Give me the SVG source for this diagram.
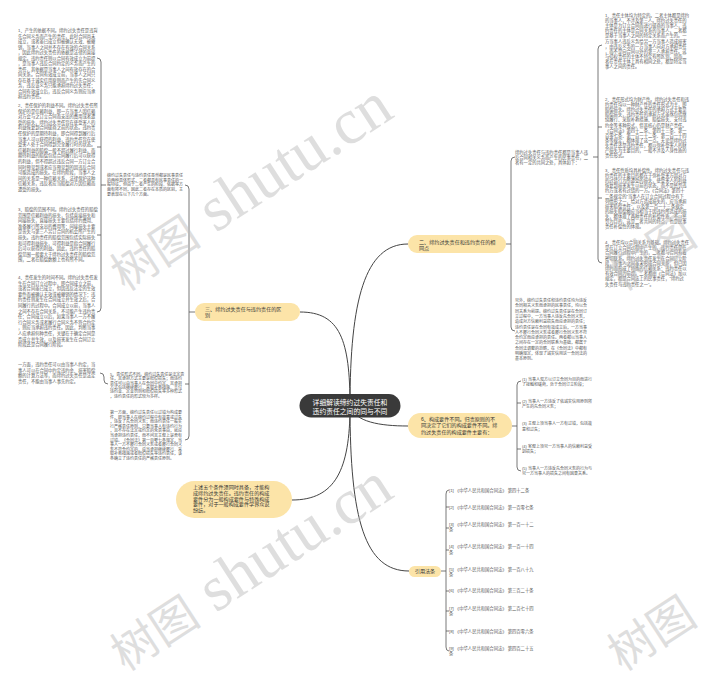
<svg xmlns="http://www.w3.org/2000/svg" width="701" height="675" viewBox="0 0 701 675">
<style>
.bg{fill:#fff}
.n{fill:#fce4a8}
.root{fill:#3a3a3a}
.t{font-family:"Liberation Sans","Noto Sans CJK SC",sans-serif;font-size:4.3px;fill:#585858}
.tm{font-family:"Liberation Sans","Noto Sans CJK SC",sans-serif;font-size:4px;fill:#585858}
.tr{font-family:"Liberation Sans","Noto Sans CJK SC",sans-serif;font-size:4.3px;fill:#585858}
.nt{font-family:"Liberation Sans","Noto Sans CJK SC",sans-serif;font-size:5.1px;fill:#333}
.rt{font-family:"Liberation Sans","Noto Sans CJK SC",sans-serif;font-size:6.8px;fill:#fff}
.ln{fill:none;stroke:#444;stroke-width:1}
.br{fill:none;stroke:#555;stroke-width:0.8}
.wm{font-family:"Liberation Serif","Noto Sans CJK SC",serif;fill:#bdbdbd;fill-opacity:0.5}
</style>
<rect class="bg" x="0" y="0" width="701" height="675"/>

<g id="connectors">
<path class="ln" d="M350,406 C350,300 365,244 408,244"/>
<path class="ln" d="M350,406 C350,340 340,312 300,312"/>
<path class="ln" d="M350,406 C355,422 380,426 408,426"/>
<path class="ln" d="M350,406 C350,470 335,500 292,500"/>
<path class="ln" d="M350,406 C350,520 365,571 409,571"/>
<path class="br" d="M506,244 L511,244"/>
<path class="br" d="M515,157 Q511,157 511,161 L511,327 Q511,331 515,331"/>
<path class="br" d="M593,157 L598,157"/>
<path class="br" d="M602,45 Q598,45 598,49 L598,259 Q598,263 602,263"/>
<path class="br" d="M598,127 L602,127"/>
<path class="br" d="M598,198 L602,198"/>
<path class="br" d="M512,426 L517,426"/>
<path class="br" d="M521,381 Q517,381 517,385 L517,467 Q517,471 521,471"/>
<path class="br" d="M517,403 L521,403"/>
<path class="br" d="M517,449 L521,449"/>
<path class="br" d="M441,571 L446,571"/>
<path class="br" d="M449,490 Q446,490 446,494 L446,647 Q446,651 449,651"/>
<path class="br" d="M446,507 L449,507"/>
<path class="br" d="M446,528 L449,528"/>
<path class="br" d="M446,550 L449,550"/>
<path class="br" d="M446,591 L449,591"/>
<path class="br" d="M446,611 L449,611"/>
<path class="br" d="M446,631 L449,631"/>
<path class="br" d="M195,312 L189,312"/>
<path class="br" d="M185,185 Q189,185 189,189 L189,436 Q189,440 185,440"/>
<path class="br" d="M189,384 L185,384"/>
<path class="br" d="M106,185 L101,185"/>
<path class="br" d="M97,58 Q101,58 101,62 L101,308 Q101,312 97,312"/>
<path class="br" d="M101,147 L97,147"/>
<path class="br" d="M101,235 L97,235"/>
<path class="br" d="M108,384 Q104,384 104,380 L104,377 Q104,373 100,373"/>
</g>

<g id="root">
<rect class="root" x="299.5" y="394" width="101" height="23.5" rx="11.7"/>
<text class="rt" text-anchor="middle"><tspan x="350" y="404.5">详细解读缔约过失责任和</tspan><tspan x="350" y="413.5">违约责任之间的同与不同</tspan></text>
</g>

<g id="node-same">
<rect class="n" x="408" y="235" width="98" height="18" rx="9"/>
<text class="nt"><tspan x="419" y="243.5">二、缔约过失责任和违约责任的相</tspan><tspan x="419" y="249.7">同点</tspan></text>
</g>

<g id="node-diff">
<rect class="n" x="195" y="303" width="105" height="18" rx="9"/>
<text class="nt"><tspan x="205" y="310.6">三、缔约过失责任与违约责任的区</tspan><tspan x="205" y="316.6">别</tspan></text>
</g>

<g id="node-elements">
<rect class="n" x="408" y="413" width="104" height="25" rx="12.5"/>
<text class="nt"><tspan x="421" y="420.8">6、构成要件不同。归责原则的不</tspan><tspan x="421" y="427.3">同决定了它们的构成要件不同。缔</tspan><tspan x="421" y="433.8">约过失责任的构成要件主要有：</tspan></text>
</g>

<g id="node-summary">
<rect class="n" x="176" y="481" width="116" height="37" rx="18.5"/>
<text class="nt"><tspan x="193" y="489">上述五个条件须同时具备，才能构</tspan><tspan x="193" y="494.8">成缔约过失责任。违约责任的构成</tspan><tspan x="193" y="500.6">要件分为一般构成要件与特殊构成</tspan><tspan x="193" y="506.4">要件，对于一般构成要件学界众说</tspan><tspan x="193" y="512.2">纷纭。</tspan></text>
</g>

<g id="node-refs">
<rect class="n" x="409" y="566" width="32" height="11" rx="5.5"/>
<text class="nt" x="425" y="573.4" text-anchor="middle">引用法条</text>
</g>

<g id="same-intro">
<text class="t"><tspan x="515" y="154">缔约过失责任与违约责任都是当事人违</tspan><tspan x="515" y="159.2">反合同相关义务而产生的民事责任，二</tspan><tspan x="515" y="164.4">者有一定的共同之处，具体如下：</tspan></text>
</g>

<g id="same-1">
<text class="t"><tspan x="605" y="17">1、责任主体均为特定的。二者主体都是缔约</tspan><tspan x="605" y="22.1">的当事人，不涉及第三人。缔约过失责任的</tspan><tspan x="605" y="27.2">主体是为订立合同而进行磋商的当事人，违</tspan><tspan x="605" y="32.3">约责任的主体是合同关系的当事人，二者都</tspan><tspan x="605" y="37.4">是基于当事人之间的特定关系而产生的。一</tspan><tspan x="605" y="42.5">方当事人违反义务给另一方当事人造成损害</tspan><tspan x="605" y="47.6">，由违反义务的一方当事人向对方承担责任</tspan><tspan x="605" y="52.7">，而不是向合同以外的第三人承担责任。这</tspan><tspan x="605" y="57.8">与侵权责任的主体不特定有所区别，因而二</tspan><tspan x="605" y="62.9">者在责任主体上具有相同之处，都是特定当</tspan><tspan x="605" y="68">事人之间的责任。</tspan></text>
</g>

<g id="same-2">
<text class="t"><tspan x="605" y="101">2、责任形式均为财产性。缔约过失责任和违</tspan><tspan x="605" y="106.1">约责任均以一种财产性的责任形式为主，即</tspan><tspan x="605" y="111.2">赔偿损失。缔约过失责任的承担方式主要是</tspan><tspan x="605" y="116.3">赔偿损失，违约责任的承担方式虽然包括继</tspan><tspan x="605" y="121.4">续履行、采取补救措施、赔偿损失、支付违</tspan><tspan x="605" y="126.5">约金等多种形式，但其核心仍是财产责任。</tspan><tspan x="605" y="131.6">《合同法》第四十二条、第四十三条、第一</tspan><tspan x="605" y="136.7">百零七条、第一百一十二条、第一百一十四</tspan><tspan x="605" y="141.8">条等规定，都体现了这一点。无论是缔约过</tspan><tspan x="605" y="146.9">失责任还是违约责任，都以弥补受害人的财</tspan><tspan x="605" y="152">产损失为主要目的，一般不涉及人身性质的</tspan><tspan x="605" y="157.1">责任形式。</tspan></text>
</g>

<g id="same-3">
<text class="t"><tspan x="605" y="172">3、责任性质均具补偿性。缔约过失责任与违</tspan><tspan x="605" y="177.1">约责任的主要目的都在于弥补受害方因对方</tspan><tspan x="605" y="182.2">的过错行为所遭受的损失，使受害人的利益</tspan><tspan x="605" y="187.3">恢复到损害发生以前的状态，而不是惩罚违</tspan><tspan x="605" y="192.4">约方或者有过错的一方。《合同法》第四十</tspan><tspan x="605" y="197.5">二条规定的“当事人在订立合同过程中有下</tspan><tspan x="605" y="202.6">列情形之一，给对方造成损失的，应当承担</tspan><tspan x="605" y="207.7">损害赔偿责任”，以及第一百一十三条规定</tspan><tspan x="605" y="212.8">的损失赔偿额应当相当于因违约所造成的损</tspan><tspan x="605" y="217.9">失，都体现了两种责任的补偿性质，不以惩</tspan><tspan x="605" y="223">罚为目的，这是二者共同的特点，也是民事</tspan><tspan x="605" y="228.1">责任补偿性的体现。</tspan></text>
</g>

<g id="same-4">
<text class="t"><tspan x="605" y="244">4、责任均以合同关系为基础。缔约过失责任</tspan><tspan x="605" y="249.2">是在订立合同过程中产生的，违约责任是在</tspan><tspan x="605" y="254.4">合同履行过程中产生的，二者都与合同有着</tspan><tspan x="605" y="259.6">密切联系。缔约过失责任发生在合同订立阶</tspan><tspan x="605" y="264.8">段，当事人之间虽未形成合同关系，但已因</tspan><tspan x="605" y="270">缔约而形成了特殊的信赖关系；违约责任以</tspan><tspan x="605" y="275.2">有效合同为前提。二者都由《合同法》加以</tspan><tspan x="605" y="280.4">规定，都是合同法上的民事责任，“缔约过</tspan><tspan x="605" y="285.6">失责任与违约责任之一”。</tspan></text>
</g>

<g id="same-other">
<text class="tm"><tspan x="515" y="302">另外，缔约过失责任和违约责任均为违反</tspan><tspan x="515" y="307.3">合同相关义务而承担的民事责任，均以合</tspan><tspan x="515" y="312.6">同关系为前提。缔约过失责任是在合同订</tspan><tspan x="515" y="317.9">立过程中，一方当事人违反先合同义务，</tspan><tspan x="515" y="323.2">造成对方信赖利益损失而应承担的责任；</tspan><tspan x="515" y="328.5">违约责任是在合同有效成立后，一方当事</tspan><tspan x="515" y="333.8">人不履行合同义务或者履行合同义务不符</tspan><tspan x="515" y="339.1">合约定而应承担的责任。两者都以当事人</tspan><tspan x="515" y="344.4">之间存在一定的合同联系为基础，都属于</tspan><tspan x="515" y="349.7">合同法调整的范畴，在《合同法》中都有</tspan><tspan x="515" y="355">明确规定，体现了诚实信用这一合同法的</tspan><tspan x="515" y="360.3">基本原则。</tspan></text>
</g>

<g id="element-1">
<text class="tm"><tspan x="522" y="380.5">(1) 当事人双方以订立合同为目的而进行</tspan><tspan x="522" y="386">了接触和磋商，处于合同订立阶段；</tspan></text>
</g>
<g id="element-2">
<text class="tm"><tspan x="522" y="402.5">(2) 当事人一方违反了依诚实信用原则所</tspan><tspan x="522" y="408">产生的先合同义务；</tspan></text>
</g>
<g id="element-3">
<text class="tm"><tspan x="522" y="425">(3) 主观上须当事人一方有过错，包括故</tspan><tspan x="522" y="430.5">意和过失；</tspan></text>
</g>
<g id="element-4">
<text class="tm"><tspan x="522" y="447.5">(4) 客观上须另一方当事人的信赖利益受</tspan><tspan x="522" y="453">到损失；</tspan></text>
</g>
<g id="element-5">
<text class="tm"><tspan x="522" y="469.5">(5) 当事人一方违反先合同义务的行为与</tspan><tspan x="522" y="475">另一方当事人的损失之间有因果关系。</tspan></text>
</g>

<g id="ref-1"><text class="tr" x="449" y="492">[1] 《中华人民共和国合同法》 第四十二条</text></g>
<g id="ref-2"><text class="tr" x="449" y="508.5">[2] 《中华人民共和国合同法》 第一百零七条</text></g>
<g id="ref-3"><text class="tr"><tspan x="449" y="525.8">[3] 《中华人民共和国合同法》 第一百一十二</tspan><tspan x="449" y="531">条</tspan></text></g>
<g id="ref-4"><text class="tr"><tspan x="449" y="548.3">[4] 《中华人民共和国合同法》 第一百一十四</tspan><tspan x="449" y="553.5">条</tspan></text></g>
<g id="ref-5"><text class="tr"><tspan x="449" y="571">[5] 《中华人民共和国合同法》 第一百八十九</tspan><tspan x="449" y="576.2">条</tspan></text></g>
<g id="ref-6"><text class="tr" x="449" y="592">[6] 《中华人民共和国合同法》 第三百二十条</text></g>
<g id="ref-7"><text class="tr"><tspan x="449" y="609.5">[7] 《中华人民共和国合同法》 第二百七十四</tspan><tspan x="449" y="614.7">条</tspan></text></g>
<g id="ref-8"><text class="tr" x="449" y="633">[8] 《中华人民共和国合同法》 第四百零六条</text></g>
<g id="ref-9"><text class="tr"><tspan x="449" y="649.5">[9] 《中华人民共和国合同法》 第四百二十五</tspan><tspan x="449" y="654.7">条</tspan></text></g>

<g id="diff-intro">
<text class="tm"><tspan x="107" y="177">缔约过失责任与违约责任虽然都是民事责任</tspan><tspan x="107" y="181.7">的两种具体形式，二者都具有民事责任的一</tspan><tspan x="107" y="186.4">般特征，但由于二者产生的阶段、依据等方</tspan><tspan x="107" y="191.1">面有所不同，因此二者存在本质的区别，主</tspan><tspan x="107" y="195.8">要表现在以下几个方面。</tspan></text>
</g>

<g id="diff-1">
<text class="t"><tspan x="18" y="32">1、产生的依据不同。缔约过失责任是违背</tspan><tspan x="18" y="37.5">先合同义务而产生的责任，此时合同尚未</tspan><tspan x="18" y="43">成立，或者虽已成立但被确认无效、被撤</tspan><tspan x="18" y="48.5">销，当事人之间并不存在有效的合同关系</tspan><tspan x="18" y="54">，因此缔约过失责任的依据是法律的直接</tspan><tspan x="18" y="59.5">规定。违约责任则以合同有效成立为前提</tspan><tspan x="18" y="65">，是当事人违反合同约定的义务而产生的</tspan><tspan x="18" y="70.5">责任，其依据是当事人之间有效存在的合</tspan><tspan x="18" y="76">同关系。合同有效成立前，当事人之间只</tspan><tspan x="18" y="81.5">存在基于诚实信用原则而产生的先合同义</tspan><tspan x="18" y="87">务，违反该义务只能承担缔约过失责任；</tspan><tspan x="18" y="92.5">合同有效成立后，违反合同义务则应当承</tspan><tspan x="18" y="98">担违约责任。</tspan></text>
</g>

<g id="diff-2">
<text class="t"><tspan x="18" y="107">2、责任保护的利益不同。缔约过失责任所</tspan><tspan x="18" y="112.6">保护的是信赖利益，即一方当事人因信赖</tspan><tspan x="18" y="118.2">对方会与之订立合同而支出的费用或者遭</tspan><tspan x="18" y="123.8">受的损失，缔约过失责任旨在使受害人的</tspan><tspan x="18" y="129.4">利益恢复到合同磋商之前的状态。违约责</tspan><tspan x="18" y="135">任保护的是期待利益，即合同得到履行后</tspan><tspan x="18" y="140.6">当事人可以获得的利益，违约责任旨在使</tspan><tspan x="18" y="146.2">受害人处于合同得到完全履行时的状态。</tspan><tspan x="18" y="151.8">信赖利益的赔偿一般不超过履行利益，而</tspan><tspan x="18" y="157.4">期待利益的赔偿包括合同履行后可以获得</tspan><tspan x="18" y="163">的利益，但不得超过违反合同一方订立合</tspan><tspan x="18" y="168.6">同时预见到或者应当预见到的因违反合同</tspan><tspan x="18" y="174.2">可能造成的损失。在缔约阶段，当事人之</tspan><tspan x="18" y="179.8">间的关系是一种信赖关系，法律保护这种</tspan><tspan x="18" y="185.4">信赖关系，违反者应当赔偿对方因信赖而</tspan><tspan x="18" y="191">遭受的损失。</tspan></text>
</g>

<g id="diff-3">
<text class="t"><tspan x="18" y="211">3、赔偿的范围不同。缔约过失责任的赔偿</tspan><tspan x="18" y="216.6">范围是信赖利益的损失，包括直接损失和</tspan><tspan x="18" y="222.2">间接损失，直接损失主要包括缔约费用、</tspan><tspan x="18" y="227.8">准备履行所支出的费用等；间接损失主要</tspan><tspan x="18" y="233.4">是丧失与第三人另订合同的机会所产生的</tspan><tspan x="18" y="239">损失。违约责任的赔偿范围包括实际损失</tspan><tspan x="18" y="244.6">和可得利益损失，可得利益是指合同履行</tspan><tspan x="18" y="250.2">后可以获得的利益。因此，违约责任的赔</tspan><tspan x="18" y="255.8">偿范围一般要大于缔约过失责任的赔偿范</tspan><tspan x="18" y="261.4">围，二者在赔偿数额上也有所不同。</tspan></text>
</g>

<g id="diff-4">
<text class="t"><tspan x="18" y="279">4、责任发生的时间不同。缔约过失责任发</tspan><tspan x="18" y="284.6">生在合同订立过程中，即合同成立之前，</tspan><tspan x="18" y="290.2">或者合同虽已成立，但因违反法定的生效</tspan><tspan x="18" y="295.8">要件而被确认无效或被撤销的情况下；违</tspan><tspan x="18" y="301.4">约责任则发生在合同成立并生效之后，合</tspan><tspan x="18" y="307">同履行的过程中。合同成立以前，当事人</tspan><tspan x="18" y="312.6">之间不存在合同关系，不可能产生违约责</tspan><tspan x="18" y="318.2">任；合同成立以后，如果当事人一方不履</tspan><tspan x="18" y="323.8">行合同义务或者履行合同义务不符合约定</tspan><tspan x="18" y="329.4">，则应当承担违约责任。因此，判断当事</tspan><tspan x="18" y="335">人应承担何种责任，关键在于确定合同是</tspan><tspan x="18" y="340.6">否成立并生效，以及损害发生在合同订立</tspan><tspan x="18" y="346.2">阶段还是合同履行阶段。</tspan></text>
</g>

<g id="diff-5">
<text class="tm"><tspan x="110" y="376">5、责任形式不同。缔约过失责任是法定责</tspan><tspan x="110" y="380.3">任，其承担方式主要是赔偿损失；而违约</tspan><tspan x="110" y="384.6">责任可以由当事人在合同中约定，其承担</tspan><tspan x="110" y="388.9">方式包括继续履行、采取补救措施、支付</tspan><tspan x="110" y="393.2">违约金、定金罚则和赔偿损失等多种形式</tspan><tspan x="110" y="397.5">，违约责任的形式较为多样。</tspan></text>
</g>

<g id="diff-5-a">
<text class="t"><tspan x="18" y="366">一方面，违约责任可以由当事人约定，当</tspan><tspan x="18" y="371.6">事人可以在合同中约定违约金、损害赔偿</tspan><tspan x="18" y="377.2">额的计算方法等，而缔约过失责任是法定</tspan><tspan x="18" y="382.8">责任，不能由当事人事先约定。</tspan></text>
</g>

<g id="diff-6">
<text class="tm"><tspan x="110" y="414">第一方面，缔约过失责任以过错为构成要</tspan><tspan x="110" y="418.6">件，即当事人在缔约过程中有故意或过失</tspan><tspan x="110" y="423.2">，违反了先合同义务；而违约责任一般实</tspan><tspan x="110" y="427.8">行严格责任原则，只要当事人有违约行为</tspan><tspan x="110" y="432.4">，且不存在法定或约定的免责事由，就应</tspan><tspan x="110" y="437">当承担违约责任，而不问其主观上是否有</tspan><tspan x="110" y="441.6">过错。《合同法》第一百零七条规定，当</tspan><tspan x="110" y="446.2">事人一方不履行合同义务或者履行合同义</tspan><tspan x="110" y="450.8">务不符合约定的，应当承担继续履行、采</tspan><tspan x="110" y="455.4">取补救措施或者赔偿损失等违约责任，该</tspan><tspan x="110" y="460">条确立了违约责任的严格责任原则。</tspan></text>
</g>

<g id="watermark">
<text class="wm" transform="translate(125,292) rotate(-33)"><tspan font-size="46">树图</tspan><tspan font-size="64"> shutu.cn</tspan></text>
<text class="wm" transform="translate(125,672) rotate(-33)"><tspan font-size="46">树图</tspan><tspan font-size="64"> shutu.cn</tspan></text>
<text class="wm" transform="translate(622,292) rotate(-33)"><tspan font-size="46">树图</tspan><tspan font-size="64"> shutu.cn</tspan></text>
<text class="wm" transform="translate(622,672) rotate(-33)"><tspan font-size="46">树图</tspan><tspan font-size="64"> shutu.cn</tspan></text>
</g>
</svg>
